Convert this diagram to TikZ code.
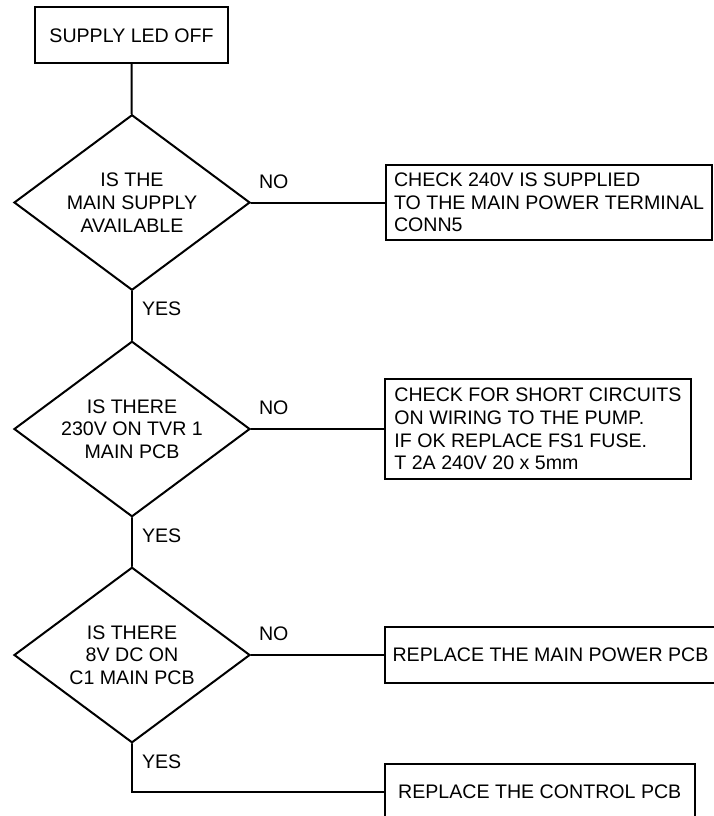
\documentclass[tikz,border=0pt]{standalone}
\usepackage{fontspec}
\setmainfont{Liberation Sans}
\usepackage{tikz}
\usetikzlibrary{shapes.geometric}

\begin{document}
\begin{tikzpicture}[line cap=round,x=1pt,y=-1pt,
  every node/.style={font=\fontsize{19.6}{22.7}\selectfont},
  link/.style={line width=2pt},
  startbox/.style={draw,line width=2pt,inner sep=0pt},
  query/.style={draw,line width=2pt,shape=diamond,aspect=1.345,minimum width=236pt,minimum height=175.5pt,inner sep=0pt,align=center},
  action/.style={draw,line width=2pt,anchor=west,inner sep=0pt},
  nolbl/.style={pos=0,inner sep=0pt,anchor=base west,xshift=7pt,yshift=14.5pt},
  yeslbl/.style={pos=0,inner sep=0pt,anchor=north west,xshift=9pt,yshift=-10pt}]
\useasboundingbox (0,0) rectangle (713,816);
% start
\node[startbox,minimum width=193pt,minimum height=56pt] (start) at (131.5,35.3) {SUPPLY LED OFF};
% questions
\node[query] (q1) at (132,202.5) {IS THE\\MAIN SUPPLY\\AVAILABLE};
\node[query] (q2) at (132,429) {IS THERE\\230V ON TVR 1\\MAIN PCB};
\node[query] (q3) at (132,655) {IS THERE\\8V DC ON\\C1 MAIN PCB};
% actions
\node[action,align=left,minimum width=326pt,minimum height=75.5pt] (a1) at (385,202.5)
  {CHECK 240V IS SUPPLIED\\TO THE MAIN POWER TERMINAL\\CONN5};
\node[action,align=left,minimum width=306pt,minimum height=99.5pt] (a2) at (384,429)
  {CHECK FOR SHORT CIRCUITS\\ON WIRING TO THE PUMP.\\IF OK REPLACE FS1 FUSE.\\T 2A 240V 20 x 5mm};
\node[action,minimum width=331pt,minimum height=56pt] (a3) at (384,655) {REPLACE THE MAIN POWER PCB};
\node[action,minimum width=309.5pt,minimum height=57pt] (a4) at (384,792) {REPLACE THE CONTROL PCB};
% connectors
\draw[link] (start) -- (q1);
\draw[link] (q1.east) -- node[nolbl] {NO} (a1.west);
\draw[link] (q1.south) -- node[yeslbl] {YES} (q2.north);
\draw[link] (q2.east) -- node[nolbl] {NO} (a2.west);
\draw[link] (q2.south) -- node[yeslbl] {YES} (q3.north);
\draw[link] (q3.east) -- node[nolbl] {NO} (a3.west);
\draw[link] (q3.south) |- node[yeslbl] {YES} (a4.west);
\end{tikzpicture}
\end{document}
